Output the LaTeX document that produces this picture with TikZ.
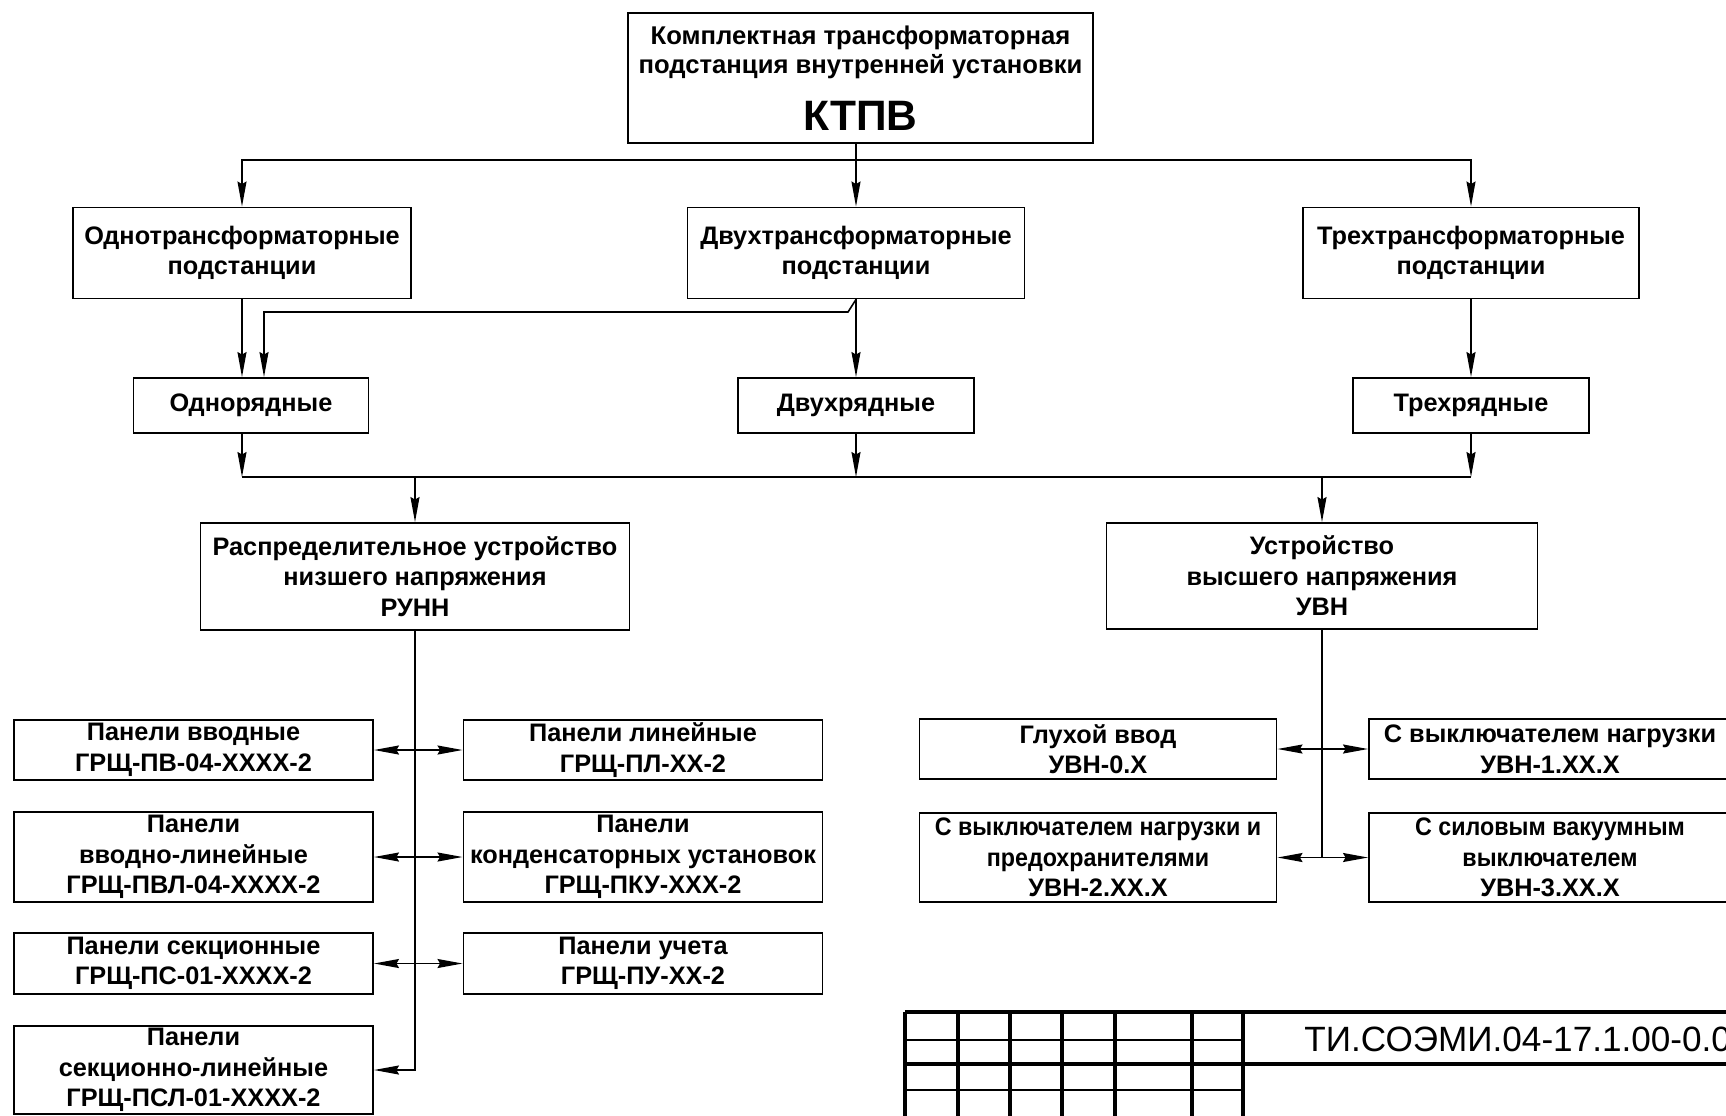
\documentclass[tikz,border=0pt]{standalone}
\usepackage{fontspec}
\setmainfont{Liberation Sans}
\newfontfamily\condensed[FakeStretch=0.92]{Liberation Sans}
\usetikzlibrary{arrows.meta}

\begin{document}
\begin{tikzpicture}[
    block/.style={draw, line width=1.1pt, align=center, inner sep=0pt,
        font=\bfseries\fontsize{14.4}{17.4}\selectfont},
    panel/.style={block, minimum width=7.18cm},
    link/.style={line width=0.9pt},
    arrow/.style={-{Stealth[length=5mm, width=1.8mm, inset=0.5mm]}, link},
    twoway/.style={{Stealth[length=5mm, width=1.8mm, inset=0.5mm]}-{Stealth[length=5mm, width=1.8mm, inset=0.5mm]}, link},
    thickline/.style={line width=1.8pt},
    thinline/.style={line width=1pt}
]
\useasboundingbox (0,0) rectangle (34.52,-22.30);
\clip (0,0) rectangle (34.52,-22.30);

% Top block
\node[block, minimum width=9.30cm, minimum height=2.60cm] (ktpv) at (17.21,-1.56) {};
\node[font=\bfseries\fontsize{14.6}{16.4}\selectfont, align=center] (ktpvname) at (17.21,-1.05)
    {Комплектная трансформаторная\\подстанция внутренней установки};
\node[font=\bfseries\fontsize{24.2}{28}\selectfont] (ktpvabbr) at (17.21,-2.32) {КТПВ};

% Number of transformers
\node[block, minimum width=6.76cm, minimum height=1.82cm] (onetr) at (4.84,-5.06) {Однотрансформаторные\\подстанции};
\node[block, minimum width=6.74cm, minimum height=1.82cm] (twotr) at (17.12,-5.06) {Двухтрансформаторные\\подстанции};
\node[block, minimum width=6.72cm, minimum height=1.82cm] (threetr) at (29.42,-5.06) {Трехтрансформаторные\\подстанции};

\coordinate (topbus) at (17.12,-3.20);
\draw[link] (ktpv.south -| twotr.north) -- (topbus);
\draw[arrow] (topbus) -| (onetr.north);
\draw[arrow] (topbus) -- (twotr.north);
\draw[arrow] (topbus) -| (threetr.north);

% Number of rows
\node[block, minimum width=4.70cm, minimum height=1.10cm] (onerow) at (5.02,-8.11) {Однорядные};
\node[block, minimum width=4.72cm, minimum height=1.10cm] (tworow) at (17.12,-8.11) {Двухрядные};
\node[block, minimum width=4.72cm, minimum height=1.10cm] (threerow) at (29.42,-8.11) {Трехрядные};

\coordinate (bend) at (16.96,-6.24);
\coordinate (joinrow) at (5.28,-6.24);
\draw[arrow] (onetr.south) -- (onetr.south |- onerow.north);
\draw[arrow] (twotr.south) -- (bend) -- (joinrow) -- (joinrow |- onerow.north);
\draw[arrow] (twotr.south) -- (tworow.north);
\draw[arrow] (threetr.south) -- (threerow.north);

% Common bus
\coordinate (busL) at (4.84,-9.54);
\coordinate (busR) at (29.42,-9.54);
\draw[link] (busL) -- (busR);
\draw[arrow] (onerow.south -| busL) -- (busL);
\draw[arrow] (tworow.south) -- (tworow.south |- busL);
\draw[arrow] (threerow.south) -- (busR);

% Switchgear
\node[block, minimum width=8.58cm, minimum height=2.14cm] (runn) at (8.30,-11.53)
    {Распределительное устройство\\низшего напряжения\\РУНН};
\node[block, minimum width=8.62cm, minimum height=2.12cm] (uvn) at (26.44,-11.52)
    {Устройство\\высшего напряжения\\УВН};
\draw[arrow] (runn.north |- busL) -- (runn.north);
\draw[arrow] (uvn.north |- busL) -- (uvn.north);

% Low voltage panels
\node[panel, minimum height=1.20cm] (pvvod) at (3.87,-15.00) {Панели вводные\\ГРЩ-ПВ-04-ХХХХ-2};
\node[panel, minimum height=1.80cm] (pvl) at (3.87,-17.14) {Панели\\вводно-линейные\\ГРЩ-ПВЛ-04-ХХХХ-2};
\node[panel, minimum height=1.22cm] (psec) at (3.87,-19.27) {Панели секционные\\ГРЩ-ПС-01-ХХХХ-2};
\node[panel, minimum height=1.76cm] (psl) at (3.87,-21.40) {Панели\\секционно-линейные\\ГРЩ-ПСЛ-01-ХХХХ-2};
\node[panel, minimum height=1.20cm] (plin) at (12.86,-15.00) {Панели линейные\\ГРЩ-ПЛ-ХХ-2};
\node[panel, minimum height=1.80cm] (pku) at (12.86,-17.14) {Панели\\конденсаторных установок\\ГРЩ-ПКУ-ХХХ-2};
\node[panel, minimum height=1.22cm] (puch) at (12.86,-19.27) {Панели учета\\ГРЩ-ПУ-ХХ-2};

\draw[arrow] (runn.south) |- (psl.east);
\foreach \a/\b in {pvvod/plin, pvl/pku, psec/puch}
    \draw[twoway] (\a.east) -- (\b.west);

% High voltage variants
\node[panel, minimum width=7.14cm, minimum height=1.20cm] (blind) at (21.96,-14.98) {Глухой ввод\\УВН-0.Х};
\node[panel, minimum width=7.14cm, minimum height=1.78cm] (fuse) at (21.96,-17.15)
    {{\condensed С выключателем нагрузки и}\\{\condensed предохранителями}\\УВН-2.ХХ.Х};
\node[panel, minimum width=7.24cm, minimum height=1.20cm] (loadsw) at (31.00,-14.98) {С выключателем нагрузки\\УВН-1.ХХ.Х};
\node[panel, minimum width=7.24cm, minimum height=1.78cm] (vacuum) at (31.00,-17.15)
    {{\condensed С силовым вакуумным}\\{\condensed выключателем}\\УВН-3.ХХ.Х};

\draw[link] (uvn.south) -- (uvn.south |- fuse.east);
\foreach \a/\b in {blind/loadsw, fuse/vacuum}
    \draw[twoway] (\a.east) -- (\b.west);

% Title block
\draw[thickline] (18.10,-20.24) -- (34.70,-20.24);
\draw[thickline] (18.10,-21.28) -- (34.70,-21.28);
\foreach \y in {-20.80,-21.80}
    \draw[thinline] (18.10,\y) -- (24.86,\y);
\foreach \x in {18.10,19.16,20.20,21.24,22.30,23.84,24.86}
    \draw[thickline] (\x,-20.24) -- (\x,-22.40);
\node[anchor=base west, inner sep=0pt, font=\fontsize{20}{24}\selectfont] (docid) at (26.08,-21.02) {ТИ.СОЭМИ.04-17.1.00-0.00};

\end{tikzpicture}
\end{document}
